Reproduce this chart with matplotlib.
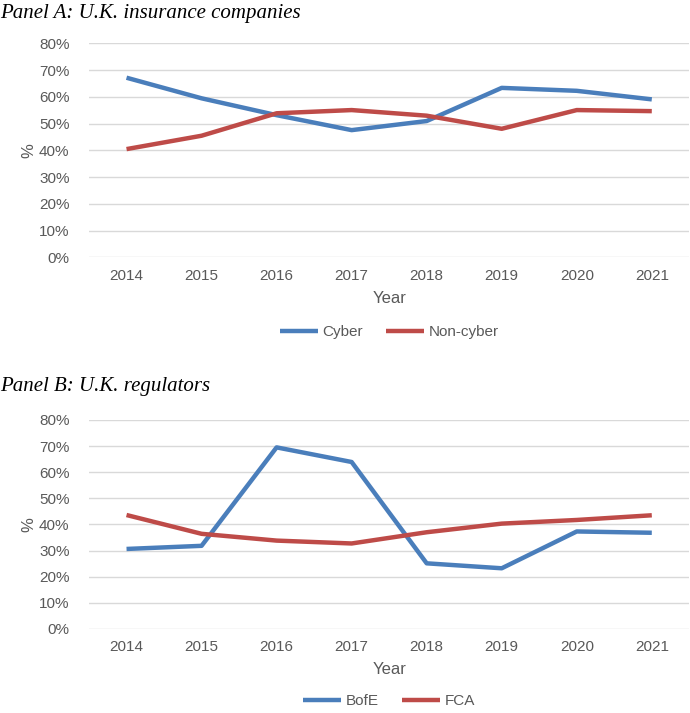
import matplotlib.pyplot as plt
from matplotlib.ticker import FuncFormatter

years = [2014, 2015, 2016, 2017, 2018, 2019, 2020, 2021]
cyber = [67.2, 59.5, 53.2, 47.6, 51.0, 63.4, 62.3, 59.1]
non_cyber = [40.5, 45.5, 53.9, 55.1, 53.0, 48.1, 55.1, 54.7]
bofe = [30.6, 31.8, 69.5, 63.9, 25.1, 23.2, 37.3, 36.8]
fca = [43.6, 36.4, 33.8, 32.7, 37.0, 40.3, 41.7, 43.5]

BLUE = '#4A7EBB'
RED = '#BE4B48'
GREY = '#595959'

plt.rcParams['font.family'] = ['Liberation Sans Narrow', 'Liberation Sans', 'DejaVu Sans']

fig = plt.figure(figsize=(6.9, 7.13), dpi=100)


def draw_panel(rect, title, title_y, s1, s2, names, leg_y):
    ax = fig.add_axes(rect)
    x = list(range(len(years)))
    ax.plot(x, s1, color=BLUE, lw=3.2, label=names[0], solid_capstyle='butt')
    ax.plot(x, s2, color=RED, lw=3.2, label=names[1], solid_capstyle='butt')
    ax.set_xlim(-0.5, len(years) - 0.5)
    ax.set_ylim(0, 80)
    ax.set_yticks(range(0, 81, 10))
    ax.yaxis.set_major_formatter(FuncFormatter(lambda v, p: f'{v:.0f}%'))
    ax.set_xticks(x)
    ax.set_xticklabels([str(y) for y in years])
    ax.grid(axis='y', color='#D9D9D9', lw=1)
    ax.set_axisbelow(True)
    for s in ax.spines.values():
        s.set_visible(False)
    ax.tick_params(length=0, labelsize=11, colors=GREY, pad=8)
    ax.tick_params(axis='y', pad=14)
    ax.set_xlabel('Year', fontsize=12, color=GREY, labelpad=6)
    ax.set_ylabel('%', fontsize=12, color=GREY, labelpad=2)
    ax.legend(loc='center', bbox_to_anchor=(0.5, leg_y), ncol=2, frameon=False,
              fontsize=11, labelcolor=GREY, handlelength=2.5, handletextpad=0.3,
              columnspacing=1.5)
    fig.text(0.0, title_y, title, fontsize=15, style='italic',
             family='Liberation Serif', va='center', ha='left')
    return ax


draw_panel([0.129, 0.639, 0.870, 0.300], 'Panel A: U.K. insurance companies', 0.981,
           cyber, non_cyber, ['Cyber', 'Non-cyber'], -0.35)
draw_panel([0.129, 0.118, 0.870, 0.293], 'Panel B: U.K. regulators', 0.458,
           bofe, fca, ['BofE', 'FCA'], -0.345)

fig.savefig('out.png', dpi=100)
